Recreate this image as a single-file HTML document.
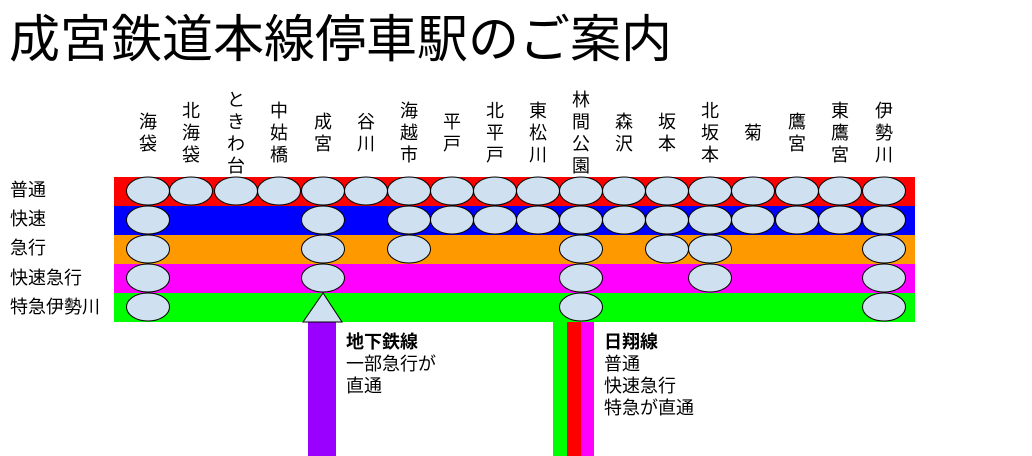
<!DOCTYPE html>
<html><head><meta charset="utf-8"><style>
body{margin:0;width:1032px;height:456px;background:#fff;position:relative;overflow:hidden;font-family:"Liberation Sans","Noto Sans CJK JP",sans-serif;color:#000}
.t{position:absolute;white-space:nowrap}
.st{position:absolute;width:26px;font-size:18px;line-height:22px;text-align:center;display:flex;flex-direction:column;justify-content:center;height:100px;top:83px}
.rl{position:absolute;left:10px;font-size:18px;line-height:20px}
</style></head><body>
<div class="t" style="left:9px;top:10px;font-size:51px;line-height:60px">成宮鉄道本線停車駅のご案内</div>
<svg width="1032" height="456" style="position:absolute;left:0;top:0">
<rect x="114" y="177" width="801" height="29" fill="#ff0000"/>
<rect x="114" y="206" width="801" height="29" fill="#0000ff"/>
<rect x="114" y="235" width="801" height="29" fill="#ff9900"/>
<rect x="114" y="264" width="801" height="29" fill="#ff00ff"/>
<rect x="114" y="293" width="801" height="29" fill="#00ff00"/>
<rect x="308" y="322" width="28" height="134" fill="#9900ff"/>
<rect x="553" y="322" width="14" height="134" fill="#00ff00"/>
<rect x="567" y="322" width="14" height="134" fill="#ff0000"/>
<rect x="581" y="322" width="13" height="134" fill="#ff00ff"/>
<polygon points="323,293 303,322 342,322" fill="#cfe0f0" stroke="#000" stroke-width="1"/>
<g id="e" fill="#cfe0f0" stroke="#000" stroke-width="1"></g>
</svg>
<script>
var xs=[148,191,236,279,323,366,409,452,495,538,581,624,667,710,753,797,840,884];
var rows=[[191,[0,1,2,3,4,5,6,7,8,9,10,11,12,13,14,15,16,17]],[220,[0,4,6,7,8,9,10,11,12,13,14,15,16,17]],[249,[0,4,6,10,12,13,17]],[278,[0,4,10,13,17]],[307,[0,10,17]]];
var g=document.getElementById('e'),s='';
rows.forEach(function(r){r[1].forEach(function(i){s+='<ellipse cx="'+xs[i]+'" cy="'+r[0]+'" rx="21.5" ry="14"/>';});});
g.innerHTML=s;
var names=["海袋","北海袋","ときわ台","中姑橋","成宮","谷川","海越市","平戸","北平戸","東松川","林間公園","森沢","坂本","北坂本","菊","鷹宮","東鷹宮","伊勢川"];
var h='';
names.forEach(function(n,i){h+='<div class="st" style="left:'+(xs[i]-13)+'px">'+n.split('').join('<br>')+'</div>';});
document.body.insertAdjacentHTML('beforeend',h);
</script>
<div class="rl" style="top:180px">普通</div>
<div class="rl" style="top:209px">快速</div>
<div class="rl" style="top:238px">急行</div>
<div class="rl" style="top:268px">快速急行</div>
<div class="rl" style="top:297px">特急伊勢川</div>
<div class="t" style="left:346px;top:331px;font-size:18px;line-height:22px"><b>地下鉄線</b><br>一部急行が<br>直通</div>
<div class="t" style="left:604px;top:331px;font-size:18px;line-height:22px"><b>日翔線</b><br>普通<br>快速急行<br>特急が直通</div>
</body></html>
